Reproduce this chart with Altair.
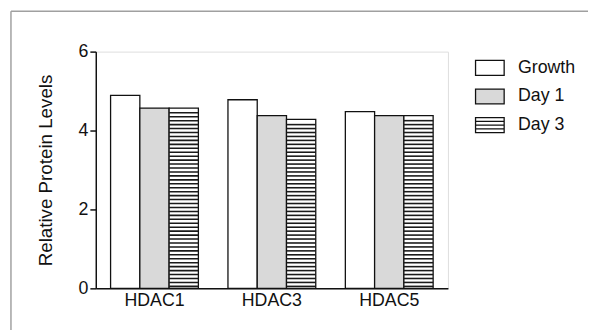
import altair as alt
import pandas as pd

genes = ["HDAC1", "HDAC3", "HDAC5"]
series = ["Growth", "Day 1", "Day 3"]
growth = [4.89, 4.78, 4.48]
day1 = [4.57, 4.38, 4.38]
day3 = [4.57, 4.28, 4.38]

fills = ["#ffffff", "#d9d9d9", "#ffffff"]
shapes = [
    "M-1,-0.52H1V0.52H-1Z",
    "M-1,-0.52H1V0.52H-1Z",
    "M-1,-0.52H1V0.52H-1Z M-1,-0.26H1 M-1,0H1 M-1,0.26H1",
]

rows = []
for s, vals in zip(series, [growth, day1, day3]):
    for g, v in zip(genes, vals):
        rows.append({"gene": g, "series": s, "value": v})
df = pd.DataFrame(rows)

FONT = "Liberation Sans"
INK = "#111111"

x = alt.X(
    "gene:N", sort=genes,
    scale=alt.Scale(domain=genes, paddingInner=0.252, paddingOuter=0.126),
    axis=alt.Axis(title=None, ticks=False, labelAngle=0, labelFontSize=18,
                  labelPadding=3, domainColor=INK, domainWidth=1.5,
                  labelColor=INK, labelFont=FONT),
)
xo = alt.XOffset("series:N", sort=series,
                 scale=alt.Scale(domain=series, paddingInner=0, paddingOuter=0))
yaxis = alt.Axis(values=[0, 2, 4, 6], title="Relative Protein Levels", grid=False,
                 tickSize=6, tickWidth=1.5, tickColor=INK, domainColor=INK,
                 domainWidth=1.5, labelFontSize=18, labelPadding=2,
                 labelColor=INK, labelFont=FONT, titleFont=FONT,
                 titleFontSize=19, titleFontWeight="normal", titleColor=INK,
                 titlePadding=23)
yscale = alt.Scale(domain=[0, 6], nice=False)

fill_scale = alt.Scale(domain=series, range=fills)
legend = alt.Legend(title=None, orient="none", legendX=384, legendY=1,
                    symbolSize=841, labelFontSize=18, labelFont=FONT,
                    labelColor=INK, labelOffset=13, rowPadding=3, padding=0,
                    symbolStrokeWidth=1.3, symbolOffset=0)

base = alt.Chart(df)

points = base.transform_calculate(mid="datum.value / 2").mark_point(
    filled=True, size=10, strokeWidth=1.3, opacity=1
).encode(
    x=x, xOffset=xo,
    y=alt.Y("mid:Q", scale=yscale, axis=yaxis),
    fill=alt.Fill("series:N", scale=fill_scale, legend=legend),
    stroke=alt.Stroke("series:N", scale=alt.Scale(domain=series, range=[INK, INK, INK]), legend=legend),
    shape=alt.Shape("series:N", scale=alt.Scale(domain=series, range=shapes), legend=legend),
)

bars = base.mark_bar(stroke=INK, strokeWidth=1.3).encode(
    x=x, xOffset=xo,
    y=alt.Y("value:Q", scale=yscale, axis=yaxis),
    fill=alt.Fill("series:N", scale=fill_scale, legend=None),
)

stripes = base.transform_filter(
    alt.datum.series == "Day 3"
).transform_calculate(
    s="sequence(0.03, datum.value - 0.06, 0.1)"
).transform_flatten(["s"]).transform_calculate(
    s2="datum.s + 0.04"
).mark_bar(fill="#1a1a1a", strokeWidth=0).encode(
    x=x, xOffset=xo,
    y=alt.Y("s:Q", scale=yscale, axis=yaxis),
    y2="s2:Q",
)

frame_df = pd.DataFrame({"k": [0]})
frame_top = alt.Chart(frame_df).mark_rule(color="#a0a0a0", strokeWidth=1.5, clip=False).encode(
    x=alt.value(-86), x2=alt.value(500), y=alt.value(-41), y2=alt.value(-41)
)
frame_left = alt.Chart(frame_df).mark_rule(color="#a0a0a0", strokeWidth=1.5, clip=False).encode(
    x=alt.value(-86), x2=alt.value(-86), y=alt.value(-41), y2=alt.value(290)
)

chart = alt.layer(points, bars, stripes, frame_top, frame_left).properties(
    width=357, height=240,
    autosize=alt.AutoSizeParams(type="none"),
    padding={"left": 89, "top": 42, "right": 142, "bottom": 40},
).configure_view(stroke=None).configure(font=FONT)

chart.save("out.html", embed_options={"renderer": "svg", "actions": False})
